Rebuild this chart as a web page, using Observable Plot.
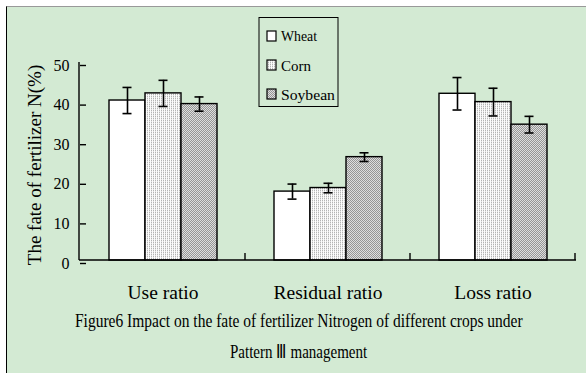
<!DOCTYPE html>
<html><head><meta charset="utf-8">
<script src="https://cdn.jsdelivr.net/npm/d3@7"></script>
<script src="https://cdn.jsdelivr.net/npm/@observablehq/plot@0.6"></script>
<style>
body{margin:0;background:#fff;}
#wrap{position:relative;width:586px;height:373px;overflow:hidden;background:#fff;}
#bg{position:absolute;left:6px;top:6px;width:586px;height:373px;background:#d3ead3;border-left:1.5px solid #000;border-top:1px solid #999;box-sizing:border-box;}
#chart{position:absolute;left:0;top:0;}
</style></head><body>
<div id="wrap"><div id="bg"></div><div id="chart"></div></div>
<script>
// ---- data ----
const categories = ["Use ratio", "Residual ratio", "Loss ratio"];
const crops = ["Wheat", "Corn", "Soybean"];
const wheat = [40.4, 17.4, 42.1];
const corn = [42.2, 18.3, 40.0];
const soybean = [39.5, 26.1, 34.3];
const wheatErr = [3.3, 1.9, 4.1];
const cornErr = [3.3, 1.2, 3.5];
const soybeanErr = [1.8, 1.1, 2.1];
const yTicks = [0, 10, 20, 30, 40, 50];
const yLabel = "The fate of fertilizer N(%)";
const captionLines = ["Figure6 Impact on the fate of fertilizer Nitrogen of different crops under", "Pattern \u2162 management"];

const seriesVals = [wheat, corn, soybean];
const seriesErr = [wheatErr, cornErr, soybeanErr];
const rows = [];
categories.forEach((c, i) => crops.forEach((k, j) => rows.push({category: c, crop: k, value: seriesVals[j][i], err: seriesErr[j][i]})));

const font = "'Liberation Serif', 'Times New Roman', serif";
const fills = ["white", "url(#pat-corn)", "url(#pat-soy)"];

const chart = Plot.plot({
  width: 586, height: 373,
  marginLeft: 79, marginRight: 10, marginTop: 62, marginBottom: 113,
  style: {background: "transparent", fontFamily: font, color: "black", overflow: "visible"},
  fx: {domain: categories, padding: 0, axis: null, label: null},
  x: {domain: crops, paddingInner: 0, paddingOuter: 0.74, axis: null, label: null},
  y: {domain: [0, 50], axis: null, label: null},
  color: {domain: crops, range: fills},
  marks: [
    Plot.barY(rows, {fx: "category", x: "crop", y: "value", fill: "crop", stroke: "black", strokeWidth: 1.4}),
    Plot.ruleX(rows, {fx: "category", x: "crop", y1: d => d.value - d.err, y2: d => d.value + d.err, stroke: "black", strokeWidth: 1.6}),
    Plot.tickY(rows, {fx: "category", x: "crop", y: d => d.value - d.err, insetLeft: 13.5, insetRight: 13.5, stroke: "black", strokeWidth: 1.6}),
    Plot.tickY(rows, {fx: "category", x: "crop", y: d => d.value + d.err, insetLeft: 13.5, insetRight: 13.5, stroke: "black", strokeWidth: 1.6}),
    Plot.axisY(yTicks, {anchor: "left", label: null, tickSize: -6, tickPadding: 17, fontSize: 16, dy: 3, strokeWidth: 1.4}),
    Plot.axisFx({anchor: "bottom", label: null, tickSize: 0, tickPadding: 24.5, fontSize: 19.5})
  ]
});
document.getElementById("chart").appendChild(chart);

const svg = d3.select(chart);
const defs = svg.insert("defs", ":first-child");
const pc = defs.append("pattern").attr("id", "pat-corn").attr("patternUnits", "userSpaceOnUse").attr("width", 2).attr("height", 2);
pc.append("rect").attr("width", 2).attr("height", 2).attr("fill", "#fcfcfc");
pc.append("rect").attr("x", 0).attr("y", 0).attr("width", 1).attr("height", 1).attr("fill", "#b4b4b4");
pc.append("rect").attr("x", 0).attr("y", 1).attr("width", 1).attr("height", 1).attr("fill", "#e4e4e4");
const ps = defs.append("pattern").attr("id", "pat-soy").attr("patternUnits", "userSpaceOnUse").attr("width", 2).attr("height", 2);
ps.append("rect").attr("width", 2).attr("height", 2).attr("fill", "#dedede");
ps.append("rect").attr("x", 0).attr("y", 0).attr("width", 1).attr("height", 1).attr("fill", "#969696");
ps.append("rect").attr("x", 1).attr("y", 1).attr("width", 1).attr("height", 1).attr("fill", "#969696");

const fx = chart.scale("fx"), y = chart.scale("y"), color = chart.scale("color");
const x0 = fx.range[0], x1 = fx.range[1], y0 = y.apply(0), yTop = y.apply(50);
const g = svg.append("g").attr("stroke", "black").attr("stroke-width", 1.4).attr("fill", "none");
g.append("line").attr("x1", x0).attr("x2", x1).attr("y1", y0).attr("y2", y0);
g.append("line").attr("x1", x0).attr("x2", x0).attr("y1", y0).attr("y2", yTop);
categories.forEach(c => {
  const xe = fx.apply(c) + fx.bandwidth;
  g.append("line").attr("x1", xe).attr("x2", xe).attr("y1", y0).attr("y2", y0 - 7);
});

// y label
svg.append("text").attr("transform", `translate(41,165) rotate(-90)`).attr("text-anchor", "middle")
  .attr("font-family", font).attr("font-size", 19).attr("fill", "black").text(yLabel);

// legend
const lg = svg.append("g").attr("font-family", font).attr("font-size", 15).attr("text-anchor", "start");
lg.append("rect").attr("x", 259).attr("y", 17.5).attr("width", 79).attr("height", 89).attr("fill", "none").attr("stroke", "black").attr("stroke-width", 1);
const legendLen = [36, 30, 54];
crops.forEach((k, i) => {
  lg.append("rect").attr("x", 267).attr("y", 31 + i * 29).attr("width", 9).attr("height", 10)
    .attr("fill", color.apply(k)).attr("stroke", "black").attr("stroke-width", 1.2);
  const t = lg.append("text").attr("fill", "black").text(k);
  const w = t.node().getComputedTextLength();
  t.attr("transform", `translate(281,${41 + i * 29.7}) scale(${legendLen[i] / w},1)`);
});

// caption (condensed by horizontal scaling)
const cap = svg.append("g").attr("font-family", font).attr("font-size", 19).attr("fill", "black").attr("text-anchor", "start");
const capPos = [[75, 327, 448], [230, 357.5, 137]];
captionLines.forEach((line, i) => {
  const t = cap.append("text").text(line);
  const w = t.node().getComputedTextLength();
  t.attr("transform", `translate(${capPos[i][0]},${capPos[i][1]}) scale(${capPos[i][2] / w},1)`);
});
</script>
</body></html>
